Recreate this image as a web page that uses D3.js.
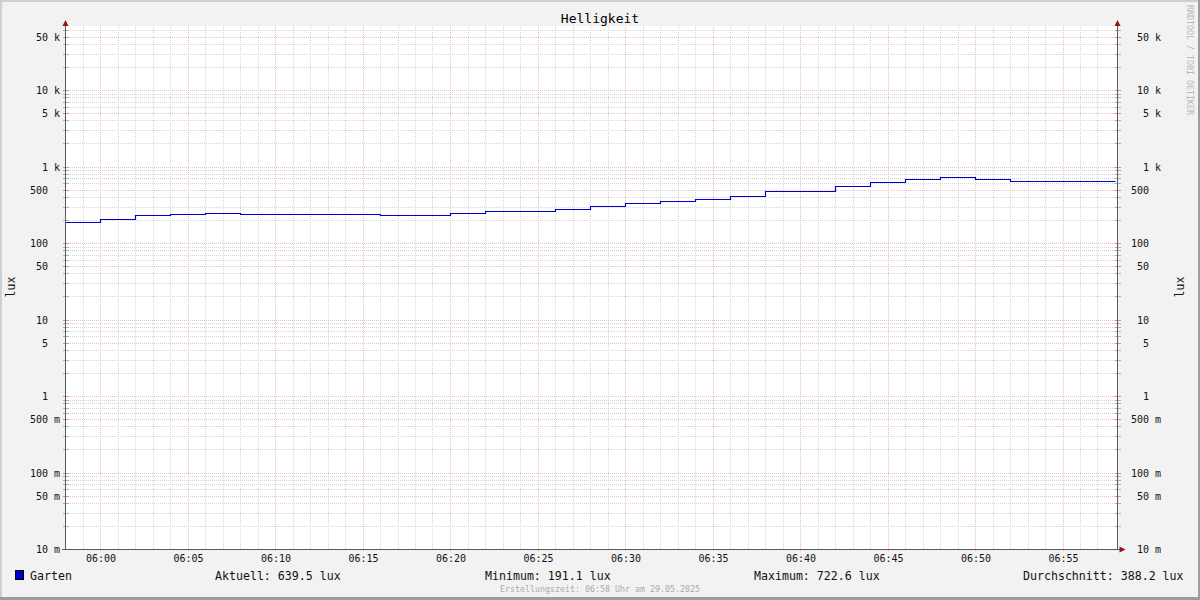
<!DOCTYPE html>
<html><head><meta charset="utf-8">
<script src="https://cdn.jsdelivr.net/npm/d3@7"></script>
<style>
html,body{margin:0;padding:0;background:#f2f2f2;}
svg{display:block;}
text{font-family:"DejaVu Sans Mono",monospace;}
</style></head>
<body>
<svg id="c" width="1200" height="600"></svg>
<script>
// ---- data ----
const title = "Helligkeit";
const seriesName = "Garten";
const unit = "lux";
const stepTimes = ["05:58","06:00","06:02","06:04","06:06","06:08","06:10","06:12","06:14","06:16",
  "06:18","06:20","06:22","06:24","06:26","06:28","06:30","06:32","06:34","06:36",
  "06:38","06:40","06:42","06:44","06:46","06:48","06:50","06:52","06:54","06:56"];
const stepValues = [191.1,208,230,237,244,237,237,237,237,230,
  230,244,259,259,276,302,330,351,373,411,
  478,478,556,621,680,722.6,680,655,655,639.5];
const endTime = "06:58";
const yTicks = [0.01,0.05,0.1,0.5,1,5,10,50,100,500,1000,5000,10000,50000];
const yTickLabels = ["10 m","50 m","100 m","500 m","1  ","5  ","10  ","50  ","100  ","500  ","1 k","5 k","10 k","50 k"];
const xTickLabels = ["06:00","06:05","06:10","06:15","06:20","06:25","06:30","06:35","06:40","06:45","06:50","06:55"];
const legendItems = ["Aktuell: 639.5 lux","Minimum: 191.1 lux","Maximum: 722.6 lux","Durchschnitt: 388.2 lux"];
const footer = "Erstellungszeit: 06:58 Uhr am 29.05.2025";
const watermark = "RRDTOOL / TOBI OETIKER";
const yDomain = [0.01, 68700];

// ---- layout ----
const W=1200,H=600, X0=66, X1=1116, Y0=26, Y1=549;
const parseT = t => { const [h,m]=t.split(":").map(Number); return new Date(2025,4,29,h,m); };
const svg = d3.select("#c");
const x = d3.scaleTime().domain([parseT(stepTimes[0]), parseT(endTime)]).range([X0,X1]);
const y = d3.scaleLog().domain(yDomain).range([Y1,Y0]);

const minC = "#d6d6d6", majC = "#efbdbd";
// dotted patterns
const defs = svg.append("defs");
function pat(id, w, h, col){
  const p = defs.append("pattern").attr("id",id).attr("patternUnits","userSpaceOnUse").attr("width",w).attr("height",h);
  p.append("rect").attr("width",1).attr("height",1).attr("fill",col);
}
pat("vmin",1,2,minC); pat("vmaj",1,2,majC); pat("hmin",2,1,minC); pat("hmaj",2,1,majC);

// background & frame
svg.append("rect").attr("width",W).attr("height",H).attr("fill","#f2f2f2");
svg.append("rect").attr("x",X0).attr("y",Y0).attr("width",X1+1-X0).attr("height",Y1-Y0).attr("fill","#ffffff");
svg.append("line").attr("x1",0).attr("x2",W).attr("y1",1).attr("y2",1).attr("stroke","#cfcfcf").attr("stroke-width",2);
svg.append("line").attr("x1",1).attr("x2",1).attr("y1",0).attr("y2",H).attr("stroke","#cfcfcf").attr("stroke-width",2);
svg.append("line").attr("x1",0).attr("x2",W).attr("y1",598.5).attr("y2",598.5).attr("stroke","#9c9c9c").attr("stroke-width",3);
svg.append("line").attr("x1",1199).attr("x2",1199).attr("y1",0).attr("y2",H).attr("stroke","#9c9c9c").attr("stroke-width",2);

// grid
const minorY = [];
for (let e=-2; e<=4; e++) for (let k=1;k<=9;k++){ const v=k*Math.pow(10,e); if (v>=yDomain[0] && v<=yDomain[1]) minorY.push(v); }
const isMajorY = v => yTicks.some(t=>Math.abs(t-v)/v<1e-6);
const minutes = d3.timeMinute.every(1).range(x.domain()[0], x.domain()[1]).slice(1);
const gridG = svg.append("g").attr("shape-rendering","crispEdges");
gridG.selectAll(".hmin").data(minorY.filter(v=>!isMajorY(v))).enter().append("rect")
  .attr("x",X0).attr("width",X1+1-X0).attr("y",d=>Math.round(y(d))).attr("height",1).attr("fill","url(#hmin)");
gridG.selectAll(".vmin").data(minutes.filter(d=>d.getMinutes()%5!==0)).enter().append("rect")
  .attr("x",d=>Math.round(x(d))-1).attr("width",1).attr("y",Y0).attr("height",Y1-Y0).attr("fill","url(#vmin)");
gridG.selectAll(".hmaj").data(yTicks).enter().append("rect")
  .attr("x",X0).attr("width",X1+4-X0).attr("y",d=>Math.round(y(d))).attr("height",1).attr("fill","url(#hmaj)");
gridG.selectAll(".vmaj").data(minutes.filter(d=>d.getMinutes()%5===0)).enter().append("rect")
  .attr("x",d=>Math.round(x(d))-1).attr("width",1).attr("y",Y0).attr("height",Y1+3-Y0).attr("fill","url(#vmaj)");

// data line
const pts = stepTimes.map((t,i)=>({t:parseT(t), v:stepValues[i]}));
pts.push({t:parseT(endTime), v:stepValues[stepValues.length-1]});
const line = d3.line().x(d=>x(d.t)-0.5).y(d=>Math.round(y(d.v))+0.5).curve(d3.curveStepAfter);
svg.append("path").datum(pts).attr("d",line).attr("fill","none").attr("stroke","#0000cc").attr("stroke-width",1.2);

// axes lines
const AL = 65.5, AR = 1117.5;
const axG = svg.append("g").attr("shape-rendering","crispEdges");
axG.selectAll(".lt").data(minorY).enter().append("line")
  .attr("x1",AL-3).attr("x2",AL+3).attr("y1",d=>Math.round(y(d))+0.5).attr("y2",d=>Math.round(y(d))+0.5)
  .attr("stroke",d=>isMajorY(d)?"#d89090":"#b0b0b0");
axG.selectAll(".rt").data(minorY).enter().append("line")
  .attr("x1",AR-3).attr("x2",AR+3).attr("y1",d=>Math.round(y(d))+0.5).attr("y2",d=>Math.round(y(d))+0.5)
  .attr("stroke",d=>isMajorY(d)?"#d89090":"#b0b0b0");
axG.append("line").attr("x1",AL).attr("x2",AL).attr("y1",22).attr("y2",Y1+1).attr("stroke","#5a5a5a");
axG.append("line").attr("x1",AR).attr("x2",AR).attr("y1",22).attr("y2",Y1+1).attr("stroke","#5a5a5a");
axG.append("line").attr("x1",AL-4).attr("x2",AR+3).attr("y1",Y1+0.5).attr("y2",Y1+0.5).attr("stroke","#5a5a5a");
// arrows
const arrowC = "#8b1a1a";
svg.append("path").attr("d",`M${AL-3},26 L${AL+3},26 L${AL},20 Z`).attr("fill",arrowC);
svg.append("path").attr("d",`M${AR-3},26 L${AR+3},26 L${AR},20 Z`).attr("fill",arrowC);
svg.append("path").attr("d",`M${AR+2},${Y1-2.5} L${AR+2},${Y1+3.5} L${AR+8},${Y1+0.5} Z`).attr("fill",arrowC);

// y labels
const nb = s => s.replace(/ /g,"\u00A0");
const fs=10;
svg.selectAll(".yl").data(yTicks).enter().append("text")
  .attr("x",60).attr("y",d=>y(d)+4).attr("text-anchor","end").attr("font-size",fs).attr("fill","#111")
  .text((d,i)=>nb(yTickLabels[i]));
svg.selectAll(".yr").data(yTicks).enter().append("text")
  .attr("x",1161).attr("y",d=>y(d)+4).attr("text-anchor","end").attr("font-size",fs).attr("fill","#111")
  .text((d,i)=>nb(yTickLabels[i]));
// x labels
svg.selectAll(".xl").data(xTickLabels).enter().append("text")
  .attr("x",d=>x(parseT(d))).attr("y",562).attr("text-anchor","middle").attr("font-size",fs).attr("fill","#111")
  .text(d=>d);

// title
svg.append("text").attr("x",600).attr("y",23).attr("text-anchor","middle").attr("font-size",13).attr("fill","#000").text(title);
// unit labels
svg.append("text").attr("transform","translate(14.5,287) rotate(-90)").attr("text-anchor","middle").attr("font-size",11.5).attr("fill","#111").text(unit);
svg.append("text").attr("transform","translate(1184,287) rotate(-90)").attr("text-anchor","middle").attr("font-size",11.5).attr("fill","#111").text(unit);
// watermark
svg.append("text").attr("transform","translate(1187,5) rotate(90)").attr("text-anchor","start").attr("font-size",8.3).attr("fill","#b8b8b8").text(watermark);

// legend
svg.append("rect").attr("x",15.5).attr("y",570.5).attr("width",8).attr("height",9).attr("fill","#0000cc").attr("stroke","#000").attr("shape-rendering","crispEdges");
svg.append("text").attr("x",30).attr("y",579.5).attr("font-size",11.6).attr("fill","#111").text(seriesName);
const legX = [215,485,754,1023];
svg.selectAll(".lg").data(legendItems).enter().append("text")
  .attr("x",(d,i)=>legX[i]).attr("y",579.5).attr("font-size",11.6).attr("fill","#111").text(d=>d);
// footer
svg.append("text").attr("x",600).attr("y",592).attr("text-anchor","middle").attr("font-size",8.3).attr("fill","#aaaaaa").text(footer);
</script>
</body></html>
